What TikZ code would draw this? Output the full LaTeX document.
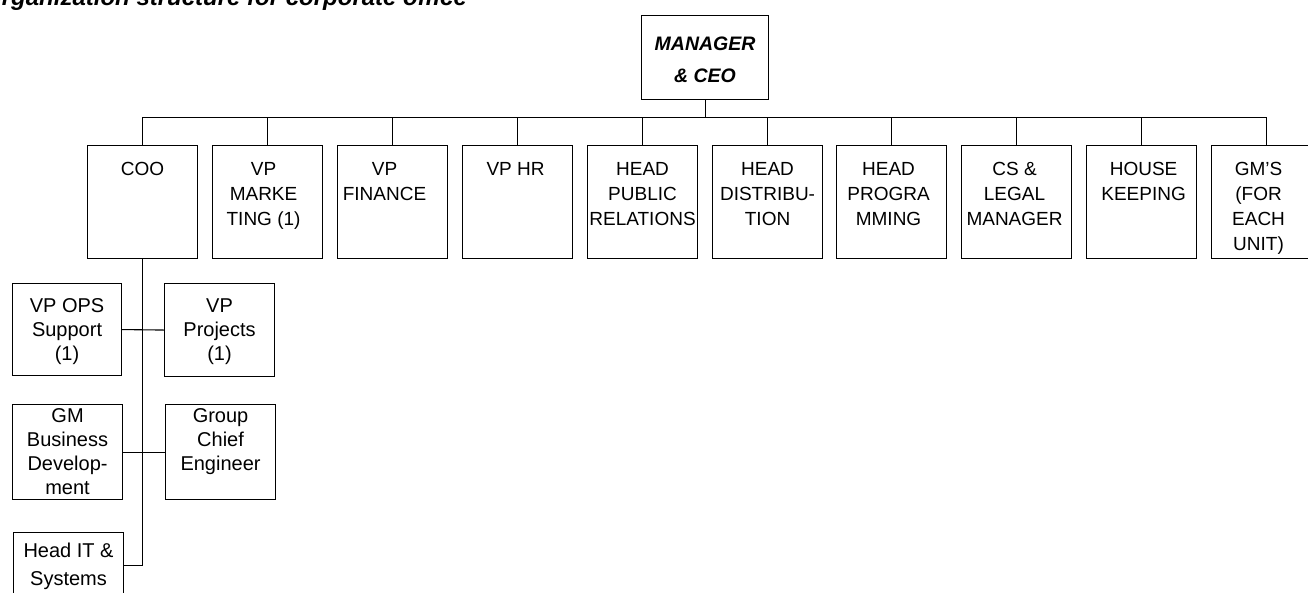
\documentclass[tikz,border=0pt]{standalone}
\usepackage{fontspec}
\setmainfont{Liberation Sans}
\newcommand\orgbox[5][0pt]{\parbox[t][#3][t]{#2}{\hspace*{#1}\parbox[t]{#2}{\centering\rule{0pt}{#4}#5}}}
\tikzset{
  conn/.style={line width=1.1pt},
  orgnode/.style={draw, line width=1.1pt, inner sep=0pt, anchor=north west},
  topfont/.style={font=\fontsize{19}{25}\selectfont},
  leftfont/.style={font=\fontsize{20}{24}\selectfont},
  ceofont/.style={font=\fontsize{19.5}{32}\selectfont\bfseries\itshape},
}
\begin{document}
\begin{tikzpicture}[x=1pt,y=-1pt]
\useasboundingbox (0,0) rectangle (1308,592);
\clip (0,0) rectangle (1308,592);
% title (cut off by the page edge)
\node[anchor=base west, inner sep=0pt, font=\fontsize{24}{24}\selectfont\bfseries\itshape] (title) at (-17,5) {Organization structure for corporate office};
% CEO
\node[orgnode, ceofont] (ceo) at (641,15) {\orgbox{127pt}{84pt}{35pt}{MANAGER\\\& CEO}};
% top row
\node[orgnode, topfont] (coo)   at (87,145)   {\orgbox{110pt}{113pt}{30pt}{COO}};
\node[orgnode, topfont] (vpm)   at (212,145)  {\orgbox[-4pt]{110pt}{113pt}{30pt}{VP\\MARKE\\TING (1)}};
\node[orgnode, topfont] (vpf)   at (337,145)  {\orgbox[-8pt]{110pt}{113pt}{30pt}{VP\\FINANCE}};
\node[orgnode, topfont] (vphr)  at (462,145)  {\orgbox[-2pt]{110pt}{113pt}{30pt}{VP HR}};
\node[orgnode, topfont] (hpr)   at (587,145)  {\orgbox{110pt}{113pt}{30pt}{HEAD\\PUBLIC\\RELATIONS}};
\node[orgnode, topfont] (hdist) at (712,145)  {\orgbox{110pt}{113pt}{30pt}{HEAD\\DISTRIBU-\\TION}};
\node[orgnode, topfont] (hprog) at (836,145)  {\orgbox[-3pt]{110pt}{113pt}{30pt}{HEAD\\PROGRA\\MMING}};
\node[orgnode, topfont] (csl)   at (961,145)  {\orgbox[-2pt]{110pt}{113pt}{30pt}{CS \&\\LEGAL\\MANAGER}};
\node[orgnode, topfont] (hk)    at (1086,145) {\orgbox[2pt]{110pt}{113pt}{30pt}{HOUSE\\KEEPING}};
\node[orgnode, topfont] (gm)    at (1211,145) {\orgbox[-8pt]{110pt}{113pt}{30pt}{GM'S\\(FOR\\EACH\\UNIT)}};
% COO reports
\node[orgnode, leftfont] (vpops)  at (12,283)  {\orgbox{109pt}{92pt}{29pt}{VP OPS\\Support\\(1)}};
\node[orgnode, leftfont] (vpproj) at (164,283) {\orgbox{110pt}{93pt}{29pt}{VP\\Projects\\(1)}};
\node[orgnode, leftfont] (gmbd)   at (12,404)  {\orgbox{110pt}{95pt}{18pt}{GM\\Business\\Develop-\\ment}};
\node[orgnode, leftfont] (gce)    at (165,404) {\orgbox{110pt}{95pt}{18pt}{Group\\Chief\\Engineer}};
\node[orgnode, font=\fontsize{20}{28}\selectfont] (headit) at (13,532) {\orgbox{110pt}{66pt}{25pt}{Head IT \&\\Systems}};
% connectors
\path (ceo.south) ++(0,17) coordinate (bj);
\draw[conn] (ceo.south) -- (bj);
\draw[conn] (coo.north) |- (bj) -| (gm.north);
\foreach \n in {vpm,vpf,vphr,hpr,hdist,hprog,csl,hk}
  \draw[conn] (\n.north) -- (\n.north |- bj);
\draw[conn] (coo.south) |- (headit.east);
\draw[conn] (vpops.east) -- (vpproj.west);
\draw[conn] (gmbd.east) -- (gce.west);
\end{tikzpicture}
\end{document}
